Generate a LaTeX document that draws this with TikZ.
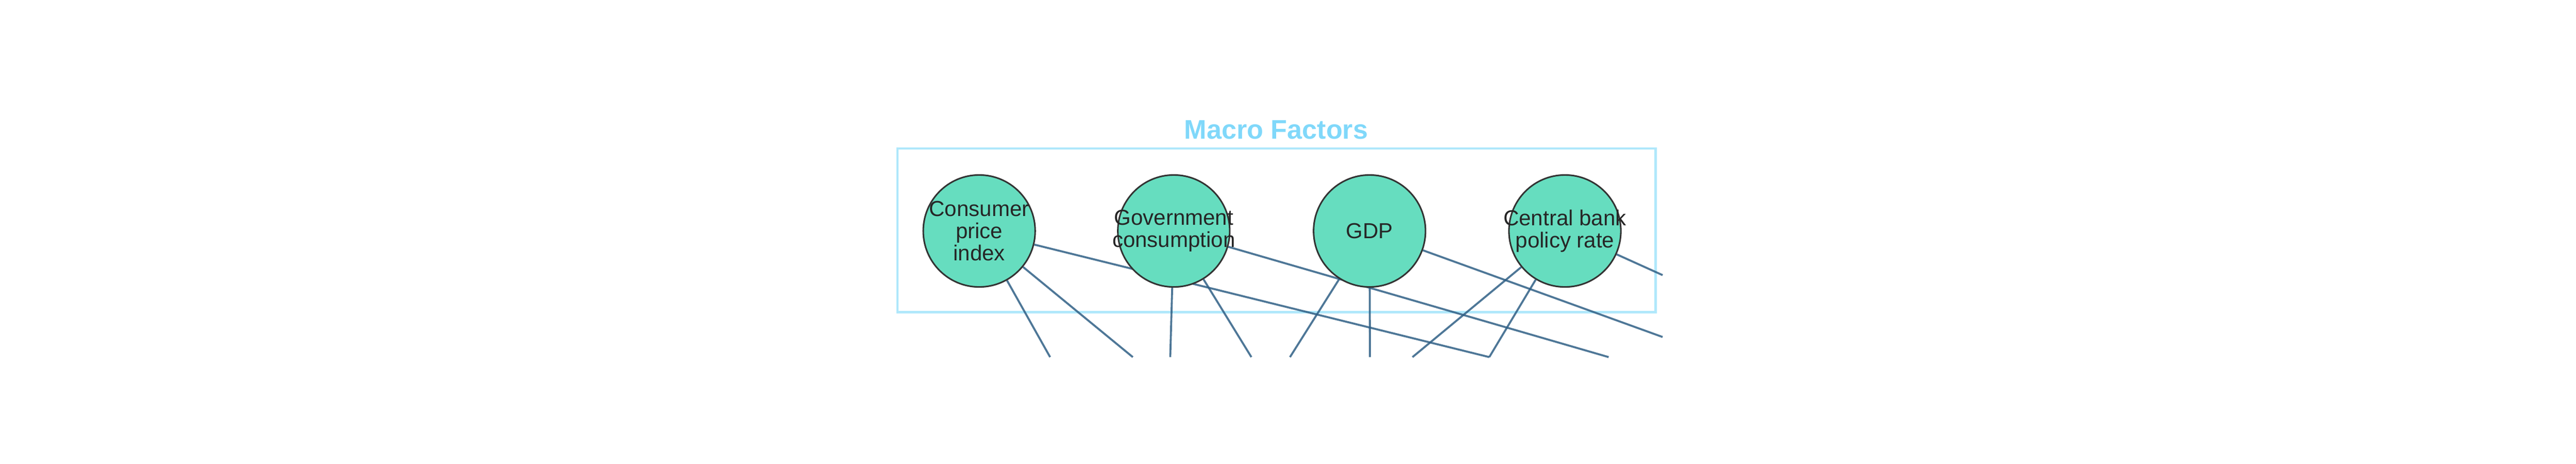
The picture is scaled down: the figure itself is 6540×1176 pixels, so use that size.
\documentclass[tikz,border=0pt]{standalone}
\usepackage{fontspec}
\setmainfont{Liberation Sans}
\usetikzlibrary{backgrounds}
\definecolor{nodefill}{HTML}{66DDBF}
\definecolor{nodeline}{HTML}{333333}
\definecolor{edgecol}{HTML}{2F5F85}
\definecolor{boxcol}{HTML}{B0E8FB}
\definecolor{titlecol}{HTML}{80D8FA}
\tikzset{
  factor/.style={circle, draw=nodeline, fill=nodefill, line width=0.04cm,
    minimum size=2.84cm, inner sep=0pt},
  factortext/.style={align=center, inner sep=0pt, text=black!85,
    font=\fontsize{15.65pt}{15.9pt}\selectfont},
  link/.style={draw=edgecol, draw opacity=0.85, line width=0.05cm},
  groupbox/.style={draw=boxcol, line width=0.06cm},
  grouptitle/.style={text=titlecol, inner sep=0pt,
    font=\fontsize{19.4pt}{23pt}\selectfont\bfseries},
}
\begin{document}
\begin{tikzpicture}[x=0.01cm, y=-0.01cm]
\useasboundingbox (0,0) rectangle (6540,1176);
% nodes
\node[factor] (cpi) at (2486,586) {};
\node[factor] (gov) at (2980,586) {};
\node[factor] (gdp) at (3477,586) {};
\node[factor] (cb)  at (3973,586) {};
\node[factortext] at (cpi) {Consumer\\price\\index};
\node[factortext] at (gov) {Government\\consumption};
\node[factortext] at (gdp) {GDP};
\node[factortext] at (cb) {Central bank\\policy rate};
% free ends of connectors (clipped at picture edge)
\coordinate (e1) at (2666,906);
\coordinate (e2) at (2876,906);
\coordinate (e3) at (3781,906);
\coordinate (e4) at (2971,906);
\coordinate (e5) at (3177,906);
\coordinate (e6) at (4084,906);
\coordinate (e7) at (3275,906);
\coordinate (e8) at (3478,906);
\coordinate (e9) at (4221,855);
\coordinate (e10) at (3586,906);
\coordinate (e12) at (4221,698);
\begin{pgfonlayer}{background}
  \node[groupbox, minimum width=19.24cm, minimum height=4.15cm, inner sep=0pt] (box) at (3241,584.5) {};
  \node[grouptitle, anchor=base] (title) at (3240,353) {Macro Factors};
  \draw[link] (cpi) -- (e1);
  \draw[link] (cpi) -- (e2);
  \draw[link] (cpi) -- (e3);
  \draw[link] (gov) -- (e4);
  \draw[link] (gov) -- (e5);
  \draw[link] (gov) -- (e6);
  \draw[link] (gdp) -- (e7);
  \draw[link] (gdp) -- (e8);
  \draw[link] (gdp) -- (e9);
  \draw[link] (cb) -- (e10);
  \draw[link] (cb) -- (e3);
  \draw[link] (cb) -- (e12);
\end{pgfonlayer}
\end{tikzpicture}
\end{document}
